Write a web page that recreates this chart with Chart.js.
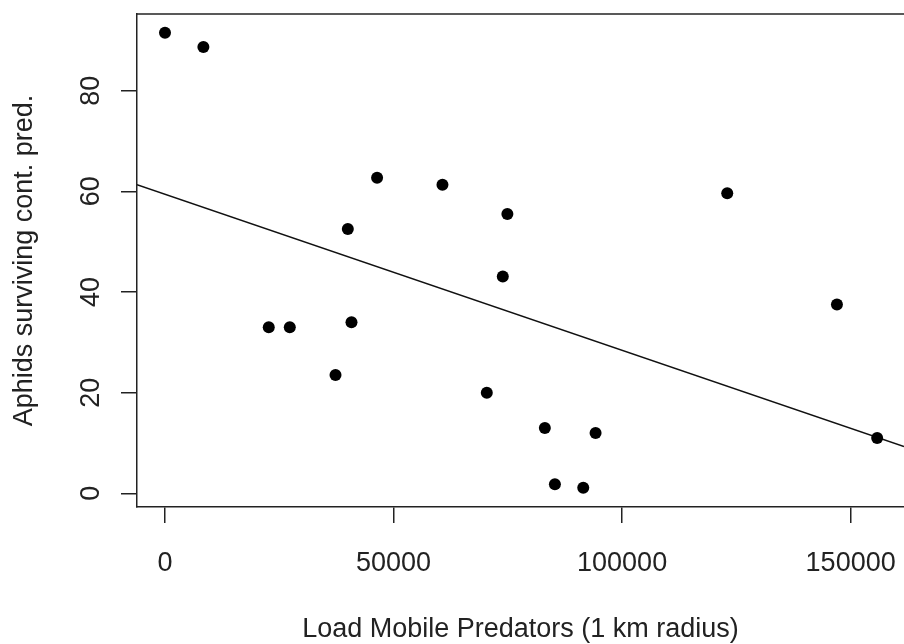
<!DOCTYPE html>
<html>
<head>
<meta charset="utf-8">
<script src="https://cdn.jsdelivr.net/npm/chart.js@4"></script>
<style>
  html, body { margin: 0; padding: 0; background: #fff; overflow: hidden; }
</style>
</head>
<body>
<canvas id="scatter" width="904" height="644"></canvas>
<script>
// values
const predators = [0, 8400, 46400, 40000, 22700, 27300, 40800, 37300, 60700, 74900,
                   73900, 70400, 83100, 94200, 85300, 91500, 123000, 147000, 155800];
const aphids = [91.5, 88.7, 62.7, 52.5, 33.0, 33.0, 34.0, 23.5, 61.3, 55.5,
                43.1, 20.0, 13.0, 12.0, 1.8, 1.1, 59.6, 37.5, 11.0];
const xTicks = [0, 50000, 100000, 150000];
const yTicks = [0, 20, 40, 60, 80];
// fitted line (abline)
const fitIntercept = 59.4;
const fitSlope = -0.00031;

const xMin = -6125, xMax = 161672;
const yMin = -2.72, yMax = 95.24;

const ink = '#222';
const font = { family: "'Liberation Sans', Arial, sans-serif", size: 27 };

const points = predators.map((x, i) => ({ x: x, y: aphids[i] }));
const fitLine = [xMin, xMax].map(x => ({ x: x, y: fitIntercept + fitSlope * x }));

// top edge of the box
const boxTop = {
    id: 'boxTop',
    afterDraw(chart) {
        const { ctx, chartArea } = chart;
        ctx.save();
        ctx.strokeStyle = ink;
        ctx.lineWidth = 1.5;
        ctx.beginPath();
        ctx.moveTo(chartArea.left, chartArea.top);
        ctx.lineTo(chartArea.right, chartArea.top);
        ctx.stroke();
        ctx.restore();
    }
};

new Chart(document.getElementById('scatter').getContext('2d'), {
    type: 'scatter',
    data: {
        datasets: [{
            data: points,
            backgroundColor: '#000',
            borderWidth: 0,
            pointRadius: 6,
            pointHoverRadius: 6
        }, {
            type: 'line',
            data: fitLine,
            borderColor: '#111',
            borderWidth: 1.5,
            pointRadius: 0,
            fill: false
        }]
    },
    options: {
        responsive: false,
        animation: false,
        devicePixelRatio: 1,
        layout: { autoPadding: false, padding: { top: 14, right: 0, left: 0, bottom: 0 } },
        plugins: { legend: { display: false }, tooltip: { enabled: false } },
        scales: {
            x: {
                type: 'linear',
                position: 'bottom',
                min: xMin,
                max: xMax,
                afterBuildTicks: s => { s.ticks = xTicks.map(v => ({ value: v })); },
                afterFit: s => { s.height = 137; s.paddingLeft = 0; s.paddingRight = 0; },
                grid: { drawOnChartArea: false, drawTicks: true, tickLength: 16, color: ink, lineWidth: 1.5 },
                border: { display: true, color: ink, width: 1.5 },
                ticks: { color: ink, font: { ...font, lineHeight: 1.2 }, padding: 24, maxRotation: 0,
                         autoSkip: false, callback: v => String(v) },
                title: { display: true, text: 'Load Mobile Predators (1 km radius)', color: ink,
                         font: { ...font, lineHeight: 1.1 }, padding: { top: 0, bottom: 0 } }
            },
            y: {
                type: 'linear',
                position: 'left',
                min: yMin,
                max: yMax,
                afterBuildTicks: s => { s.ticks = yTicks.map(v => ({ value: v })); },
                afterFit: s => { s.width = 137; s.paddingTop = 0; s.paddingBottom = 0; },
                grid: { drawOnChartArea: false, drawTicks: true, tickLength: 16, color: ink, lineWidth: 1.5 },
                border: { display: true, color: ink, width: 1.5 },
                ticks: { color: ink, font: font, padding: 14, minRotation: 90, maxRotation: 90,
                         crossAlign: 'center', autoSkip: false, callback: v => String(v) },
                title: { display: true, text: 'Aphids surviving cont. pred.', color: ink,
                         font: { ...font, lineHeight: 1.1 }, padding: { top: 9.5, bottom: 0 } }
            }
        }
    },
    plugins: [boxTop]
});
</script>
</body>
</html>
